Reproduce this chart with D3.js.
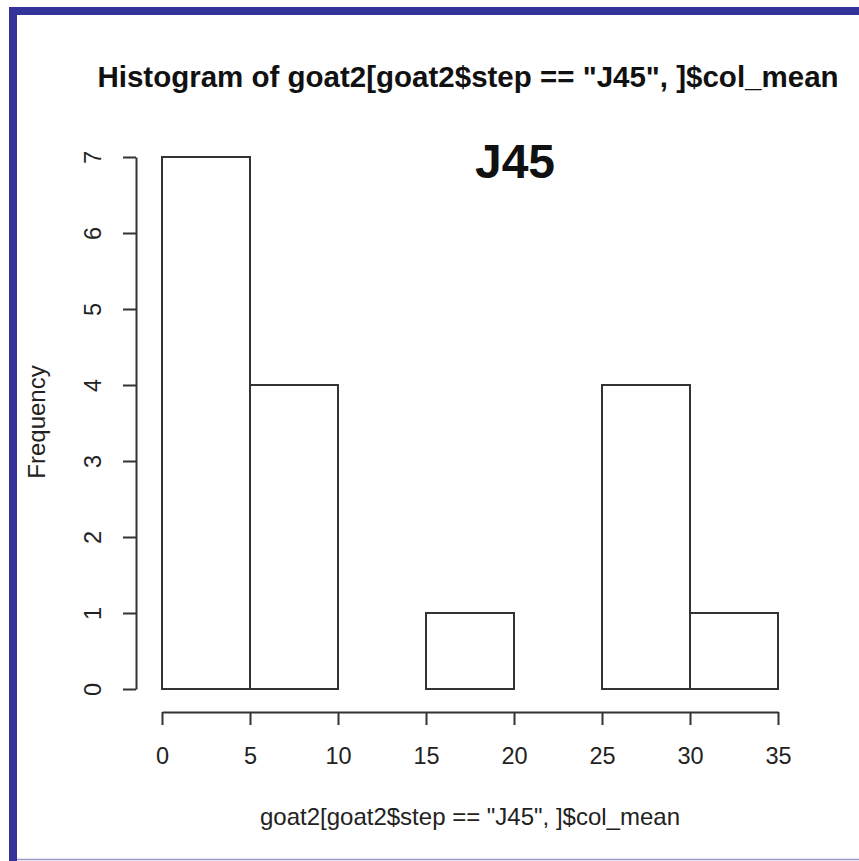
<!DOCTYPE html>
<html>
<head>
<meta charset="utf-8">
<script src="https://cdn.jsdelivr.net/npm/d3@7"></script>
<style>
  html,body{margin:0;padding:0;background:#fff;}
  svg{display:block;font-family:"Liberation Sans",Arial,sans-serif;}
</style>
</head>
<body>
<svg id="chart" width="859" height="861"></svg>
<script>
/* ===== Data ===== */
const binStarts = [0, 5, 10, 15, 20, 25, 30];
const binWidth = 5;
const counts = [7, 4, 0, 1, 0, 4, 1];
const xTicks = [0, 5, 10, 15, 20, 25, 30, 35];
const yTicks = [0, 1, 2, 3, 4, 5, 6, 7];
const title = 'Histogram of goat2[goat2$step == "J45", ]$col_mean';
const xLabel = 'goat2[goat2$step == "J45", ]$col_mean';
const yLabel = 'Frequency';
const note = 'J45';

/* ===== Frame ===== */
const svg = d3.select('#chart');
const ink = '#333';
// thick blue edges top + left, thin pale edge at bottom
svg.append('line').attr('x1',9).attr('x2',859).attr('y1',11).attr('y2',11)
  .attr('stroke','#333399').attr('stroke-width',8);
svg.append('line').attr('x1',13).attr('x2',13).attr('y1',7).attr('y2',861)
  .attr('stroke','#333399').attr('stroke-width',8);
svg.append('line').attr('x1',17).attr('x2',859).attr('y1',859.5).attr('y2',859.5)
  .attr('stroke','#9999cc').attr('stroke-width',1.5);

/* ===== Scales ===== */
const x = d3.scaleLinear().domain([0,35]).range([162,778]);
const y = d3.scaleLinear().domain([0,7]).range([689,157]);

/* ===== Bars ===== */
svg.append('g').selectAll('rect').data(binStarts.map((s,i)=>({s,c:counts[i]}))).enter()
  .append('rect')
  .attr('x',d=>x(d.s)).attr('y',d=>y(d.c))
  .attr('width',d=>x(d.s+binWidth)-x(d.s)).attr('height',d=>y(0)-y(d.c))
  .attr('fill','#fff').attr('stroke',ink).attr('stroke-width',2);

/* ===== Axes ===== */
const xA = svg.append('g').attr('transform','translate(0,712)')
  .call(d3.axisBottom(x).tickValues(xTicks).tickFormat(d3.format('d')).tickSize(13).tickSizeOuter(0).tickPadding(22));
const yA = svg.append('g').attr('transform','translate(136,0)')
  .call(d3.axisLeft(y).tickValues(yTicks).tickFormat(d3.format('d')).tickSize(13).tickSizeOuter(0));
[xA,yA].forEach(a=>{
  a.attr('font-size',null).attr('font-family',null);
  a.select('.domain').attr('stroke',ink).attr('stroke-width',2);
  a.selectAll('.tick line').attr('stroke',ink).attr('stroke-width',2);
  a.selectAll('.tick text').attr('fill','#222').attr('font-size',23.5);
});
yA.selectAll('.tick text').attr('text-anchor','middle').attr('x',null).attr('dy',null)
  .attr('transform','translate(-43,0) rotate(-90)').attr('dy','0.36em');

/* ===== Text ===== */
svg.append('text').attr('x',468).attr('y',87).attr('text-anchor','middle')
  .attr('font-size',29.5).attr('font-weight','bold').attr('fill','#111').text(title);
svg.append('text').attr('x',470).attr('y',825).attr('text-anchor','middle')
  .attr('font-size',24).attr('fill','#222').text(xLabel);
svg.append('text').attr('transform','translate(45,422) rotate(-90)').attr('text-anchor','middle')
  .attr('font-size',24).attr('fill','#222').text(yLabel);
svg.append('text').attr('x',515).attr('y',178).attr('text-anchor','middle')
  .attr('font-size',48).attr('font-weight','bold').attr('fill','#111').text(note);
</script>
</body>
</html>
